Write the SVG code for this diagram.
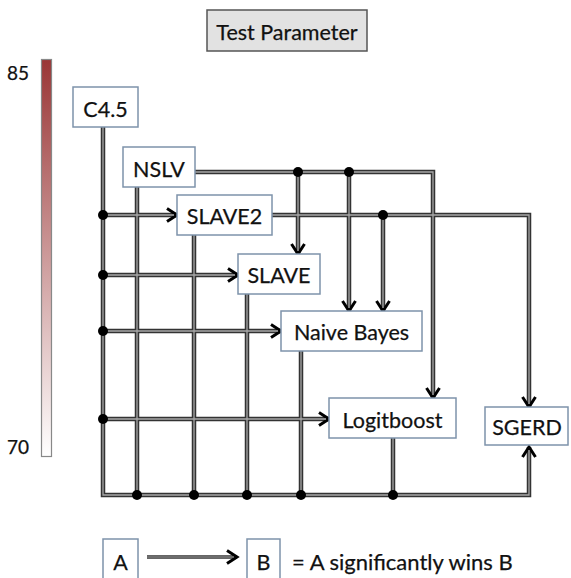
<svg xmlns="http://www.w3.org/2000/svg" width="571" height="578" viewBox="0 0 571 578">
<defs>
<linearGradient id="bar" x1="0" y1="0" x2="0" y2="1">
<stop offset="0" stop-color="#9a3636"/>
<stop offset="1" stop-color="#ffffff"/>
</linearGradient>
<marker id="ah" markerUnits="userSpaceOnUse" markerWidth="16" markerHeight="16" refX="13" refY="8" orient="auto" overflow="visible">
<path d="M3,1.5 L13,8 L3,14.5" fill="none" stroke="#000" stroke-width="3" stroke-linejoin="miter"/>
</marker>
</defs>
<style>
text{font-family:Lato,"Liberation Sans",sans-serif;fill:#111;stroke:#111;stroke-width:0.25}
.box{fill:#fff;stroke:#7e93ab;stroke-width:1.5}
.lbl{font-size:21.5px;text-anchor:middle}
.out{fill:none;stroke:#333;stroke-width:4.5}
.in{fill:none;stroke:#a8a8a8;stroke-width:1.3}
.dot{fill:#000}
</style>

<g id="title">
<rect x="207" y="10" width="160" height="41" fill="#e2e2e2" stroke="#555" stroke-width="1.5"/>
<text x="287" y="39.5" class="lbl">Test Parameter</text>
</g>

<g id="colorbar">
<rect x="41.5" y="59.5" width="10" height="397" fill="url(#bar)" stroke="#888" stroke-width="1.2"/>
<text x="7" y="80" style="font-size:19px">85</text>
<text x="7" y="454" style="font-size:19px">70</text>
</g>

<g id="connectors">
<g class="out">
<path d="M103,127 V495 H529 V447" marker-end="url(#ah)"/>
<path d="M137,187 V495"/>
<path d="M194,235 V495"/>
<path d="M247,294 V495"/>
<path d="M301,351 V495"/>
<path d="M393,438 V495"/>
<path d="M103,215 H177" marker-end="url(#ah)"/>
<path d="M103,275 H238" marker-end="url(#ah)"/>
<path d="M103,331 H281" marker-end="url(#ah)"/>
<path d="M103,419 H329" marker-end="url(#ah)"/>
<path d="M195,172 H433 V398" marker-end="url(#ah)"/>
<path d="M298,172 V254" marker-end="url(#ah)"/>
<path d="M349,172 V311" marker-end="url(#ah)"/>
<path d="M272,215 H529 V407" marker-end="url(#ah)"/>
<path d="M383,215 V311" marker-end="url(#ah)"/>
</g>
<g class="in">
<path d="M103,127 V495 H529 V450"/>
<path d="M137,187 V495"/>
<path d="M194,235 V495"/>
<path d="M247,294 V495"/>
<path d="M301,351 V495"/>
<path d="M393,438 V495"/>
<path d="M103,215 H174"/>
<path d="M103,275 H235"/>
<path d="M103,331 H278"/>
<path d="M103,419 H326"/>
<path d="M195,172 H433 V395"/>
<path d="M298,172 V251"/>
<path d="M349,172 V308"/>
<path d="M272,215 H529 V404"/>
<path d="M383,215 V308"/>
</g>
<g class="dot">
<circle cx="103" cy="215" r="5"/>
<circle cx="103" cy="275" r="5"/>
<circle cx="103" cy="331" r="5"/>
<circle cx="103" cy="419" r="5"/>
<circle cx="298" cy="172" r="5"/>
<circle cx="349" cy="172" r="5"/>
<circle cx="383" cy="215" r="5"/>
<circle cx="137" cy="495" r="5"/>
<circle cx="194" cy="495" r="5"/>
<circle cx="247" cy="495" r="5"/>
<circle cx="301" cy="495" r="5"/>
<circle cx="393" cy="495" r="5"/>
</g>
</g>

<g id="c45"><rect class="box" x="73" y="87" width="65" height="40"/><text class="lbl" x="105.5" y="116.5">C4.5</text></g>
<g id="nslv"><rect class="box" x="123" y="147" width="72" height="40"/><text class="lbl" x="159" y="176.5">NSLV</text></g>
<g id="slave2"><rect class="box" x="177" y="195" width="95" height="40"/><text class="lbl" x="224.5" y="223.5">SLAVE2</text></g>
<g id="slave"><rect class="box" x="238" y="254" width="82" height="40"/><text class="lbl" x="279" y="283">SLAVE</text></g>
<g id="naivebayes"><rect class="box" x="281" y="311" width="141" height="40"/><text class="lbl" x="351.5" y="340">Naive Bayes</text></g>
<g id="logitboost"><rect class="box" x="329" y="398" width="127" height="40"/><text class="lbl" x="392.5" y="427.5">Logitboost</text></g>
<g id="sgerd"><rect class="box" x="485" y="407" width="83" height="38"/><text class="lbl" x="527" y="435">SGERD</text></g>

<g id="legend">
<rect class="box" x="103" y="539" width="35" height="50"/>
<text class="lbl" x="120.5" y="570">A</text>
<rect class="box" x="247" y="539" width="33" height="50"/>
<text class="lbl" x="263.5" y="570">B</text>
<path class="out" d="M147,557 H237" marker-end="url(#ah)" style="stroke-width:3.5"/>
<path class="in" d="M147,557 H234" style="stroke-width:1"/>
<text x="292" y="570" style="font-size:22px">= A significantly wins B</text>
</g>
</svg>
